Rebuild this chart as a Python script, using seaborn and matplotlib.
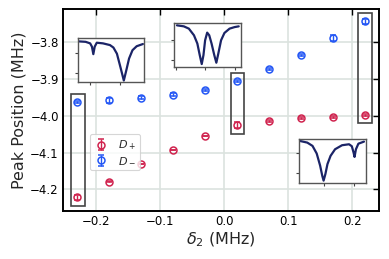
import numpy as np
import pandas as pd
import seaborn as sns
import matplotlib
matplotlib.use("Agg")
import matplotlib.pyplot as plt
from matplotlib.patches import Rectangle

# ---- data ----
delta2 = [-0.23, -0.18, -0.13, -0.08, -0.03, 0.02, 0.07, 0.12, 0.17, 0.22]
d_plus = [-4.222, -4.179, -4.131, -4.093, -4.055, -4.026, -4.013, -4.006, -4.003, -3.998]
d_plus_err = [0.006, 0.001, 0.001, 0.001, 0.001, 0.008, 0.003, 0.003, 0.003, 0.003]
d_minus = [-3.963, -3.958, -3.950, -3.942, -3.929, -3.905, -3.873, -3.834, -3.788, -3.743]
d_minus_err = [0.003, 0.007, 0.003, 0.003, 0.003, 0.003, 0.003, 0.003, 0.007, 0.007]

x_ticks = [-0.2, -0.1, 0.0, 0.1, 0.2]
y_ticks = [-4.2, -4.1, -4.0, -3.9, -3.8]

# inset spectra (normalised frequency, normalised transmission)
spec1_x = [0.016, 0.12, 0.188, 0.215, 0.236, 0.257, 0.288, 0.382, 0.487, 0.539, 0.592,
           0.644, 0.696, 0.733, 0.775, 0.827, 0.89, 0.984]
spec1_y = [0.93, 0.92, 0.885, 0.81, 0.64, 0.81, 0.90, 0.885, 0.846, 0.79, 0.65,
           0.35, 0.04, 0.27, 0.54, 0.73, 0.82, 0.87]
spec2_x = [0.04, 0.143, 0.219, 0.296, 0.347, 0.383, 0.413, 0.439, 0.464, 0.495, 0.526,
           0.561, 0.602, 0.633, 0.663, 0.704, 0.755, 0.832, 0.908, 0.97]
spec2_y = [0.94, 0.917, 0.865, 0.714, 0.526, 0.263, 0.06, 0.263, 0.60, 0.774, 0.714,
           0.526, 0.263, 0.09, 0.30, 0.60, 0.767, 0.865, 0.90, 0.917]
spec3_x = [0.016, 0.12, 0.199, 0.262, 0.314, 0.346, 0.366, 0.393, 0.424, 0.471, 0.539,
           0.644, 0.749, 0.791, 0.817, 0.832, 0.853, 0.89, 0.974]
spec3_y = [0.96, 0.925, 0.85, 0.677, 0.40, 0.17, 0.06, 0.21, 0.436, 0.624, 0.774,
           0.865, 0.887, 0.842, 0.70, 0.60, 0.774, 0.90, 0.947]

sns.set_theme(style="whitegrid")
plt.rcParams['font.family'] = ['DejaVu Sans']

red = "#d0234e"
blue = "#2457f5"

fig = plt.figure(figsize=(3.89, 2.59), dpi=100)
ax = fig.add_axes([0.162, 0.1853, 0.8123, 0.78])

ebkw = dict(fmt='o', mfc='none', ms=5, mew=1.1, elinewidth=1.0, capsize=2.2, capthick=1.0)
ax.errorbar(delta2, d_plus, yerr=d_plus_err, color=red, label=r'$D_+$', **ebkw)
ax.errorbar(delta2, d_minus, yerr=d_minus_err, color=blue, label=r'$D_-$', **ebkw)

ax.set_xlim(-0.2516, 0.242)
ax.set_ylim(-4.259, -3.709)
ax.set_xticks(x_ticks)
ax.set_yticks(y_ticks)
ax.set_xticklabels([f"{v:.1f}".replace('-', '\u2212') for v in x_ticks])
ax.set_yticklabels([f"{v:.1f}".replace('-', '\u2212') for v in y_ticks])
ax.grid(True, color="#dbe3df", linewidth=1.2)
for s in ax.spines.values():
    s.set_color('black')
    s.set_linewidth(1.4)
ax.tick_params(direction='in', top=True, right=True, length=4, width=1.0,
               labelsize=8.5, colors='black', pad=3)
ax.set_xlabel(r'$\delta_2$ (MHz)', fontsize=11.5, labelpad=2)
ax.set_ylabel('Peak Position (MHz)', fontsize=11.5, labelpad=3)

# highlight boxes
for (x0, x1, y0, y1) in [(-0.2385, -0.2177, -4.246, -3.941),
                         (0.0105, 0.0308, -4.050, -3.882),
                         (0.2098, 0.2306, -4.020, -3.719)]:
    ax.add_patch(Rectangle((x0, y0), x1 - x0, y1 - y0, fill=False,
                           edgecolor='#444444', linewidth=1.2, zorder=1))

leg = ax.legend(loc='upper left', bbox_to_anchor=(0.085, 0.38), fontsize=8,
                frameon=True, borderaxespad=0, handlelength=1.2, handletextpad=0.9,
                borderpad=0.4, labelspacing=0.3)
leg.get_frame().set_edgecolor('#cccccc')
leg.get_frame().set_linewidth(0.8)

# insets
insets = [
    ([0.1997, 0.6822, 0.1704, 0.1699], spec1_x, spec1_y, [0.215, 0.67], [0.188, 0.644]),
    ([0.4481, 0.7425, 0.1707, 0.1699], spec2_x, spec2_y, [0.15, 0.617], [0.03, 0.46, 0.908]),
    ([0.7694, 0.2923, 0.1707, 0.1699], spec3_x, spec3_y, [0.226, 0.684], [0.366, 0.817]),
]
for rect, sx, sy, yt, xt in insets:
    iax = fig.add_axes(rect)
    iax.set_facecolor('white')
    df = pd.DataFrame({'f': sx, 'T': sy})
    sns.lineplot(data=df, x='f', y='T', ax=iax, color='#1b2467', linewidth=1.6)
    iax.set_xlim(0, 1)
    iax.set_ylim(0, 1)
    iax.set_xticks(xt)
    iax.set_yticks(yt)
    iax.set_xticklabels([])
    iax.set_yticklabels([])
    iax.set_xlabel('')
    iax.set_ylabel('')
    iax.grid(False)
    iax.tick_params(direction='out', length=2.5, width=0.8, colors='#444444',
                    left=True, bottom=True)
    for s in iax.spines.values():
        s.set_color('#555555')
        s.set_linewidth(1.0)

fig.savefig('out.png', dpi=100)
